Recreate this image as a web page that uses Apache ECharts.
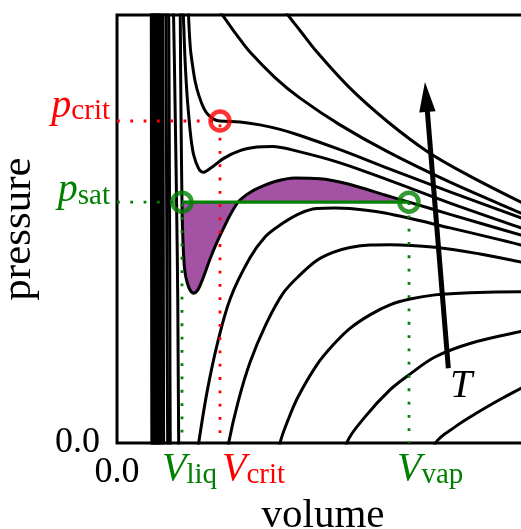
<!DOCTYPE html>
<html>
<head>
<meta charset="utf-8">
<script src="https://cdn.jsdelivr.net/npm/echarts@6/dist/echarts.min.js"></script>
<style>
  html, body { margin: 0; padding: 0; background: #ffffff; }
  #chart { width: 521px; height: 529px; }
</style>
</head>
<body>
<div id="chart"></div>
<script>
// Saturation and critical state
const P_SAT = 0.748, P_CRIT = 1.0;
const V_LIQ = 0.631, V_CRIT = 1.0, V_VAP = 2.835;
const V_MAX = 4, P_MAX = 1.3292;

// Axis tick labels
const xTickLabels = ['0.0'];
const yTickLabels = ['0.0'];

// Isotherms [volume, pressure], hottest first
const iso01 = [[1.553,1.376],[1.660,1.329],[1.777,1.281],[1.939,1.215],[2.262,1.102],[2.631,0.997],[3.019,0.904],[3.408,0.832],[3.922,0.748],[4.058,0.728]];
const iso02 = [[0.942,1.366],[1.024,1.329],[1.097,1.296],[1.165,1.266],[1.291,1.214],[1.534,1.135],[1.777,1.071],[2.165,0.988],[2.631,0.904],[3.233,0.810],[3.922,0.714],[4.058,0.696]];
// critical isotherm
const iso03 = [[0.689,1.376],[0.694,1.329],[0.712,1.227],[0.733,1.174],[0.760,1.121],[0.796,1.078],[0.842,1.040],[0.883,1.020],[0.939,1.006],[1.000,1.000],[1.194,0.997],[1.388,0.988],[1.583,0.974],[1.777,0.955],[2.165,0.911],[2.631,0.853],[3.233,0.780],[3.922,0.699],[4.058,0.683]];
const iso04 = [[0.636,1.376],[0.644,1.329],[0.653,1.252],[0.663,1.174],[0.680,1.081],[0.696,1.019],[0.718,0.947],[0.745,0.894],[0.793,0.852],[0.835,0.841],[0.906,0.853],[1.036,0.884],[1.194,0.908],[1.359,0.919],[1.505,0.921],[1.777,0.904],[2.165,0.870],[2.631,0.817],[3.233,0.745],[3.922,0.668],[4.058,0.652]];
// isotherm at the saturation temperature
const iso05 = [[0.610,1.376],[0.614,1.329],[0.617,1.189],[0.621,1.034],[0.626,0.879],[0.631,0.748],[0.635,0.677],[0.648,0.575],[0.660,0.531],[0.680,0.500],[0.709,0.475],[0.745,0.465],[0.777,0.472],[0.809,0.491],[0.854,0.528],[0.906,0.574],[0.971,0.624],[1.036,0.668],[1.097,0.707],[1.175,0.748],[1.233,0.765],[1.291,0.778],[1.359,0.790],[1.534,0.812],[1.728,0.823],[1.971,0.821],[2.262,0.803],[2.602,0.770],[2.835,0.748],[3.233,0.710],[3.922,0.646],[4.058,0.634]];
const iso06 = [[0.542,1.376],[0.549,1.329],[0.563,1.065],[0.578,0.755],[0.590,0.444],[0.599,0],[0.607,-0.084],[0.641,-0.161],[0.709,-0.152],[0.767,-0.068],[0.793,0],[0.874,0.158],[0.971,0.304],[1.100,0.449],[1.291,0.575],[1.437,0.640],[1.583,0.677],[1.777,0.713],[1.939,0.728],[2.117,0.730],[2.262,0.728],[2.602,0.714],[3.233,0.668],[3.922,0.615],[4.058,0.602]];
const iso07 = [[0.498,1.376],[0.502,1.329],[0.508,0.910],[0.513,0.444],[0.517,0],[0.529,-0.099],[0.660,-0.270],[0.903,-0.239],[1.039,-0.099],[1.084,0],[1.175,0.127],[1.291,0.250],[1.447,0.369],[1.615,0.466],[1.777,0.522],[1.939,0.567],[2.097,0.592],[2.262,0.607],[2.456,0.615],[2.650,0.616],[3.087,0.608],[3.524,0.587],[3.922,0.562],[4.058,0.553]];
const iso08 = [[0.474,1.376],[0.476,1.329],[0.482,0.755],[0.492,0],[0.505,-0.115],[0.806,-0.425],[1.291,-0.363],[1.524,-0.115],[1.583,0],[1.660,0.071],[1.757,0.143],[1.939,0.242],[2.097,0.304],[2.262,0.356],[2.456,0.398],[2.650,0.429],[2.845,0.447],[3.087,0.460],[3.427,0.467],[3.922,0.470],[4.058,0.470]];
const iso09 = [[0.443,1.376],[0.445,1.329],[0.449,0.755],[0.453,0],[0.461,-0.115],[0.806,-0.550],[1.777,-0.488],[2.165,-0.115],[2.230,0],[2.408,0.081],[2.650,0.165],[2.845,0.214],[3.087,0.267],[3.427,0.309],[3.922,0.346],[4.058,0.352]];
const iso10 = [[0.421,1.376],[0.423,1.329],[0.427,0.755],[0.431,0],[0.439,-0.115],[1.291,-0.643],[2.748,-0.550],[3.039,-0.084],[3.092,0],[3.282,0.050],[3.476,0.090],[3.718,0.135],[3.922,0.170],[4.058,0.193]];
// coldest isotherms: only their liquid branches fall inside the frame
const iso11 = [[0.405,1.376],[0.410,0],[0.412,-0.2]];
const iso12 = [[0.391,1.376],[0.396,0],[0.398,-0.2]];
const iso13 = [[0.377,1.376],[0.382,0],[0.384,-0.2]];
const iso14 = [[0.362,1.376],[0.367,0],[0.369,-0.2]];
const iso15 = [[0.347,1.376],[0.352,0],[0.354,-0.2]];
const iso16 = [[0.333,1.376],[0.338,0],[0.340,-0.2]];

const isotherms = [iso01, iso02, iso03, iso04, iso05, iso06, iso07, iso08,
                   iso09, iso10, iso11, iso12, iso13, iso14, iso15, iso16];

// temperature arrow, in data coordinates
const ARROW_TAIL = [3.217, 0.232];
const ARROW_TIP = [2.990, 1.121];

const FONT = 'Liberation Serif';
const RED = '#ff0000', GREEN = '#008000', PURPLE = '#a452a4';

const chart = echarts.init(document.getElementById('chart'), null, { renderer: 'canvas' });

function isothermSeries(data) {
  return {
    type: 'line', data: data, symbol: 'none', smooth: 0.35,
    clip: true, silent: true, z: 3,
    lineStyle: { color: '#000', width: 3 }
  };
}

function dotted(data, color) {
  return {
    type: 'line', data: data, symbol: 'none', clip: true, silent: true, z: 4,
    lineStyle: { color: color, width: 2.8, type: [2.8, 10.5], cap: 'butt' }
  };
}

function ring(data, color) {
  return {
    type: 'scatter', data: data, symbol: 'circle', symbolSize: 19, silent: true, z: 10,
    itemStyle: { color: 'rgba(0,0,0,0)', borderColor: color, borderWidth: 4.5 }
  };
}

function label(x, y, main, sub, color, align) {
  return {
    type: 'text', x: x, y: y, silent: true, z: 20,
    style: {
      text: '{i|' + main + '}{s|' + sub + '}',
      align: align, verticalAlign: 'middle', fill: color,
      rich: {
        i: { fontFamily: FONT, fontStyle: 'italic', fontSize: 40, lineHeight: 40, fill: color, verticalAlign: 'bottom' },
        s: { fontFamily: FONT, fontSize: 29, lineHeight: 18, fill: color, verticalAlign: 'bottom' }
      }
    }
  };
}

const option = {
  animation: false,
  backgroundColor: '#ffffff',
  grid: {
    left: 117, top: 15, width: 412, height: 428,
    outerBoundsMode: 'none', containLabel: false,
    show: true, borderColor: '#000', borderWidth: 3, backgroundColor: 'transparent'
  },
  xAxis: {
    type: 'value', min: 0, max: V_MAX, interval: V_MAX,
    axisLine: { show: false }, axisTick: { show: false }, splitLine: { show: false },
    axisLabel: {
      margin: 12, color: '#000', fontFamily: FONT, fontSize: 36,
      formatter: v => (v === 0 ? xTickLabels[0] : '')
    },
    name: 'volume', nameLocation: 'middle', nameGap: 50,
    nameTextStyle: { color: '#000', fontFamily: FONT, fontSize: 41 }
  },
  yAxis: {
    type: 'value', min: 0, max: P_MAX, interval: P_MAX,
    axisLine: { show: false }, axisTick: { show: false }, splitLine: { show: false },
    axisLabel: {
      margin: 17, color: '#000', fontFamily: FONT, fontSize: 36,
      formatter: v => (v === 0 ? yTickLabels[0] : '')
    },
    name: 'pressure', nameLocation: 'middle', nameGap: 77, nameRotate: 90,
    nameTextStyle: { color: '#000', fontFamily: FONT, fontSize: 43 }
  },
  series: [
    // area between the saturation isotherm and the coexistence pressure
    {
      type: 'custom', silent: true, z: 1, clip: true,
      data: [[V_LIQ, P_SAT]],
      renderItem: function (params, api) {
        const pts = iso05.filter(d => d[0] >= V_LIQ && d[0] <= V_VAP).map(d => api.coord(d));
        return { type: 'polygon', shape: { points: pts }, style: { fill: PURPLE } };
      }
    },
    ...isotherms.map(isothermSeries),
    dotted([[0, P_CRIT], [V_CRIT, P_CRIT], [V_CRIT, 0]], RED),
    dotted([[0, P_SAT], [V_LIQ, P_SAT], [V_LIQ, 0]], GREEN),
    dotted([[V_VAP, P_SAT], [V_VAP, 0]], GREEN),
    {
      type: 'line', data: [[V_LIQ, P_SAT], [V_VAP, P_SAT]], symbol: 'none', silent: true, z: 5,
      lineStyle: { color: GREEN, width: 3.3 }
    },
    // arrow pointing towards rising temperature
    {
      type: 'custom', silent: true, z: 6, clip: false,
      data: [[ARROW_TIP[0], ARROW_TIP[1]]],
      renderItem: function (params, api) {
        const a = api.coord(ARROW_TAIL), b = api.coord(ARROW_TIP);
        const dx = b[0] - a[0], dy = b[1] - a[1], len = Math.hypot(dx, dy);
        const ux = dx / len, uy = dy / len, nx = -uy, ny = ux;
        const headLen = 30, headHalf = 8.2;
        const base = [b[0] - ux * headLen, b[1] - uy * headLen];
        return {
          type: 'group',
          children: [
            { type: 'line', shape: { x1: a[0], y1: a[1], x2: base[0] + ux * 3, y2: base[1] + uy * 3 },
              style: { stroke: '#000', lineWidth: 5 } },
            { type: 'polygon',
              shape: { points: [b, [base[0] + nx * headHalf, base[1] + ny * headHalf],
                                   [base[0] - nx * headHalf, base[1] - ny * headHalf]] },
              style: { fill: '#000' } }
          ]
        };
      }
    },
    ring([[V_CRIT, P_CRIT]], RED),
    ring([[V_LIQ, P_SAT], [V_VAP, P_SAT]], GREEN)
  ],
  graphic: [
    label(110, 106, 'p', 'crit', RED, 'right'),
    label(110, 190.5, 'p', 'sat', GREEN, 'right'),
    label(162, 469.5, 'V', 'liq', GREEN, 'left'),
    label(222, 469.5, 'V', 'crit', RED, 'left'),
    label(397, 469.5, 'V', 'vap', GREEN, 'left'),
    {
      type: 'text', x: 450, y: 386.5, silent: true, z: 20,
      style: { text: 'T', fontFamily: FONT, fontStyle: 'italic', fontSize: 40,
               fill: '#000', align: 'left', verticalAlign: 'middle' }
    }
  ]
};

chart.setOption(option);
</script>
</body>
</html>
